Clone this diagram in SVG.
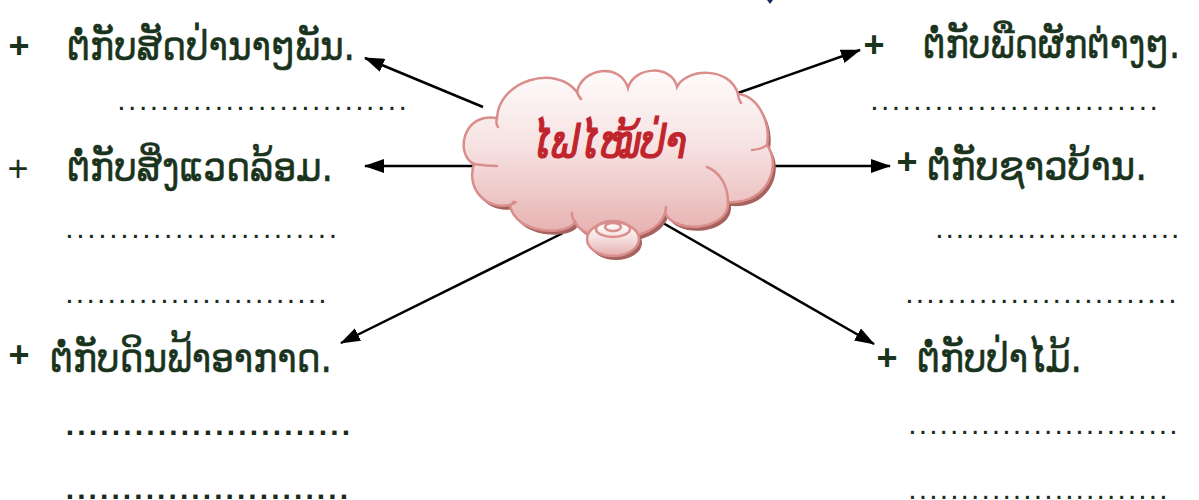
<svg xmlns="http://www.w3.org/2000/svg" width="1199" height="500" viewBox="0 0 1199 500">
<defs>
<style>
.lbl{font-family:"DejaVu Sans","Noto Sans",sans-serif;font-size:41px;fill:#1a331c;stroke:#1a331c;stroke-width:0.6}
.plus{font-family:"Liberation Sans",Arial,sans-serif;font-size:36px;fill:#1a331c;text-anchor:middle}
.b{font-weight:bold}
.dots{font-family:"Liberation Sans",Arial,sans-serif;font-size:30px;fill:#1a2a1c}
.conn{stroke:#000;stroke-width:2.5;fill:none;marker-end:url(#ah)}
.cl{fill:url(#cg);stroke:#d98e8c;stroke-width:2.5}
.inner{fill:none;stroke:#d98e8c;stroke-width:2.5;stroke-linecap:round}
.sh{fill:#a6625f}
.title{font-family:"DejaVu Sans","Noto Sans",sans-serif;font-size:45px;font-style:italic;fill:#c0242c;stroke:#c0242c;stroke-width:1.2}
</style>
<linearGradient id="cg" x1="0" y1="0" x2="0" y2="1">
<stop offset="0" stop-color="#fefbfb"/>
<stop offset="0.45" stop-color="#f7e2e2"/>
<stop offset="1" stop-color="#e5afae"/>
</linearGradient>
<marker id="ah" markerUnits="userSpaceOnUse" markerWidth="20" markerHeight="14" refX="19" refY="7" orient="auto">
<path d="M0,0 L20,7 L0,14 Z" fill="#000"/>
</marker>
</defs>

<g id="connectors">
<line class="conn" x1="483" y1="107" x2="365" y2="58"/>
<line class="conn" x1="483" y1="166" x2="365" y2="166"/>
<line class="conn" x1="563" y1="233" x2="341" y2="343"/>
<line class="conn" x1="738" y1="93" x2="860" y2="50"/>
<line class="conn" x1="772" y1="166" x2="890" y2="166"/>
<line class="conn" x1="663" y1="223" x2="874" y2="344"/>
</g>

<g id="cloud">
<path class="sh" transform="translate(3,4)" d="M497,118 C499,80 556,64 577,92 C582,68 620,62 628,88 C634,66 672,64 677,87 C686,68 730,66 738,94 C758,96 771,122 767,145 C782,165 768,205 728,202 C730,230 675,235 665,213 C655,245 585,245 575,222 C568,236 515,235 510,205 C485,210 466,188 474,164 C455,155 462,112 497,118 Z"/>
<path class="cl" d="M497,118 C499,80 556,64 577,92 C582,68 620,62 628,88 C634,66 672,64 677,87 C686,68 730,66 738,94 C758,96 771,122 767,145 C782,165 768,205 728,202 C730,230 675,235 665,213 C655,245 585,245 575,222 C568,236 515,235 510,205 C485,210 466,188 474,164 C455,155 462,112 497,118 Z"/>
<path class="inner" d="M497,118 C496,121 496,124 498,127"/>
<path class="inner" d="M577,92 C578,95 579,97 581,99"/>
<path class="inner" d="M738,94 C738,97 739,100 741,103"/>
<path class="inner" d="M767,145 C763,148 758,150 752,150"/>
<path class="inner" d="M728,202 C728,186 720,172 707,167"/>
<path class="inner" d="M665,213 C666,211 666,209 666,207"/>
<path class="inner" d="M575,222 C573,220 572,217 572,213"/>
<path class="inner" d="M510,205 C514,203 519,202 513,202"/>
<path class="inner" d="M474,164 C480,165 488,166 497,166"/>
<ellipse class="sh" cx="616" cy="243" rx="26" ry="17"/>
<ellipse class="cl" cx="613" cy="239" rx="26" ry="17"/>
<ellipse cx="613" cy="229" rx="17" ry="8" fill="none" stroke="#d98e8c" stroke-width="2.5"/>
<ellipse cx="613" cy="227" rx="8" ry="4" fill="none" stroke="#d98e8c" stroke-width="2.5"/>
<text class="title" x="532" y="158" textLength="155" lengthAdjust="spacingAndGlyphs">ໄຟໄໝ້ປ່າ</text>
</g>

<g id="left1">
<text class="plus b" x="19" y="58">+</text>
<text class="lbl" x="67" y="60" textLength="288" lengthAdjust="spacingAndGlyphs">ຕໍ່ກັບສັດປ່ານາໆພັນ.</text>
<text class="dots" x="117.3" y="109.5" textLength="289.6" lengthAdjust="spacing">...........................</text>
</g>
<g id="left2">
<text class="plus" x="18" y="181">+</text>
<text class="lbl" x="67" y="181" textLength="266" lengthAdjust="spacingAndGlyphs">ຕໍ່ກັບສິ່ງແວດລ້ອມ.</text>
<text class="dots" x="65.3" y="238" textLength="271.8" lengthAdjust="spacing">.........................</text>
<text class="dots" x="65.3" y="303" textLength="261.3" lengthAdjust="spacing">.........................</text>
</g>
<g id="left3">
<text class="plus b" x="19" y="367">+</text>
<text class="lbl" x="50" y="372" textLength="282" lengthAdjust="spacingAndGlyphs">ຕໍ່ກັບດິນຟ້າອາກາດ.</text>
<text class="dots b" x="65.8" y="435" textLength="284.3" lengthAdjust="spacing">.........................</text>
<text class="dots b" x="65.8" y="499" textLength="282.2" lengthAdjust="spacing">.........................</text>
</g>
<g id="right1">
<text class="plus b" x="874" y="57">+</text>
<text class="lbl" x="923" y="58" textLength="257" lengthAdjust="spacingAndGlyphs">ຕໍ່ກັບພືດຜັກຕ່າງໆ.</text>
<text class="dots" x="870.3" y="110" textLength="287.6" lengthAdjust="spacing">...........................</text>
</g>
<g id="right2">
<text class="plus b" x="907" y="174">+</text>
<text class="lbl" x="927" y="180" textLength="220" lengthAdjust="spacingAndGlyphs">ຕໍ່ກັບຊາວບ້ານ.</text>
<text class="dots" x="935.3" y="238" textLength="244" lengthAdjust="spacing">........................</text>
<text class="dots" x="905.3" y="303" textLength="271.4" lengthAdjust="spacing">..........................</text>
</g>
<g id="right3">
<text class="plus b" x="887" y="370">+</text>
<text class="lbl" x="917" y="372" textLength="165" lengthAdjust="spacingAndGlyphs">ຕໍ່ກັບປ່າໄມ້.</text>
<text class="dots" x="908.3" y="434" textLength="269.3" lengthAdjust="spacing">..........................</text>
<text class="dots" x="908.3" y="499" textLength="259.3" lengthAdjust="spacing">.........................</text>
</g>
<path d="M767,0 L773,0 L770,4 Z" fill="#1f2a5a"/>
</svg>
